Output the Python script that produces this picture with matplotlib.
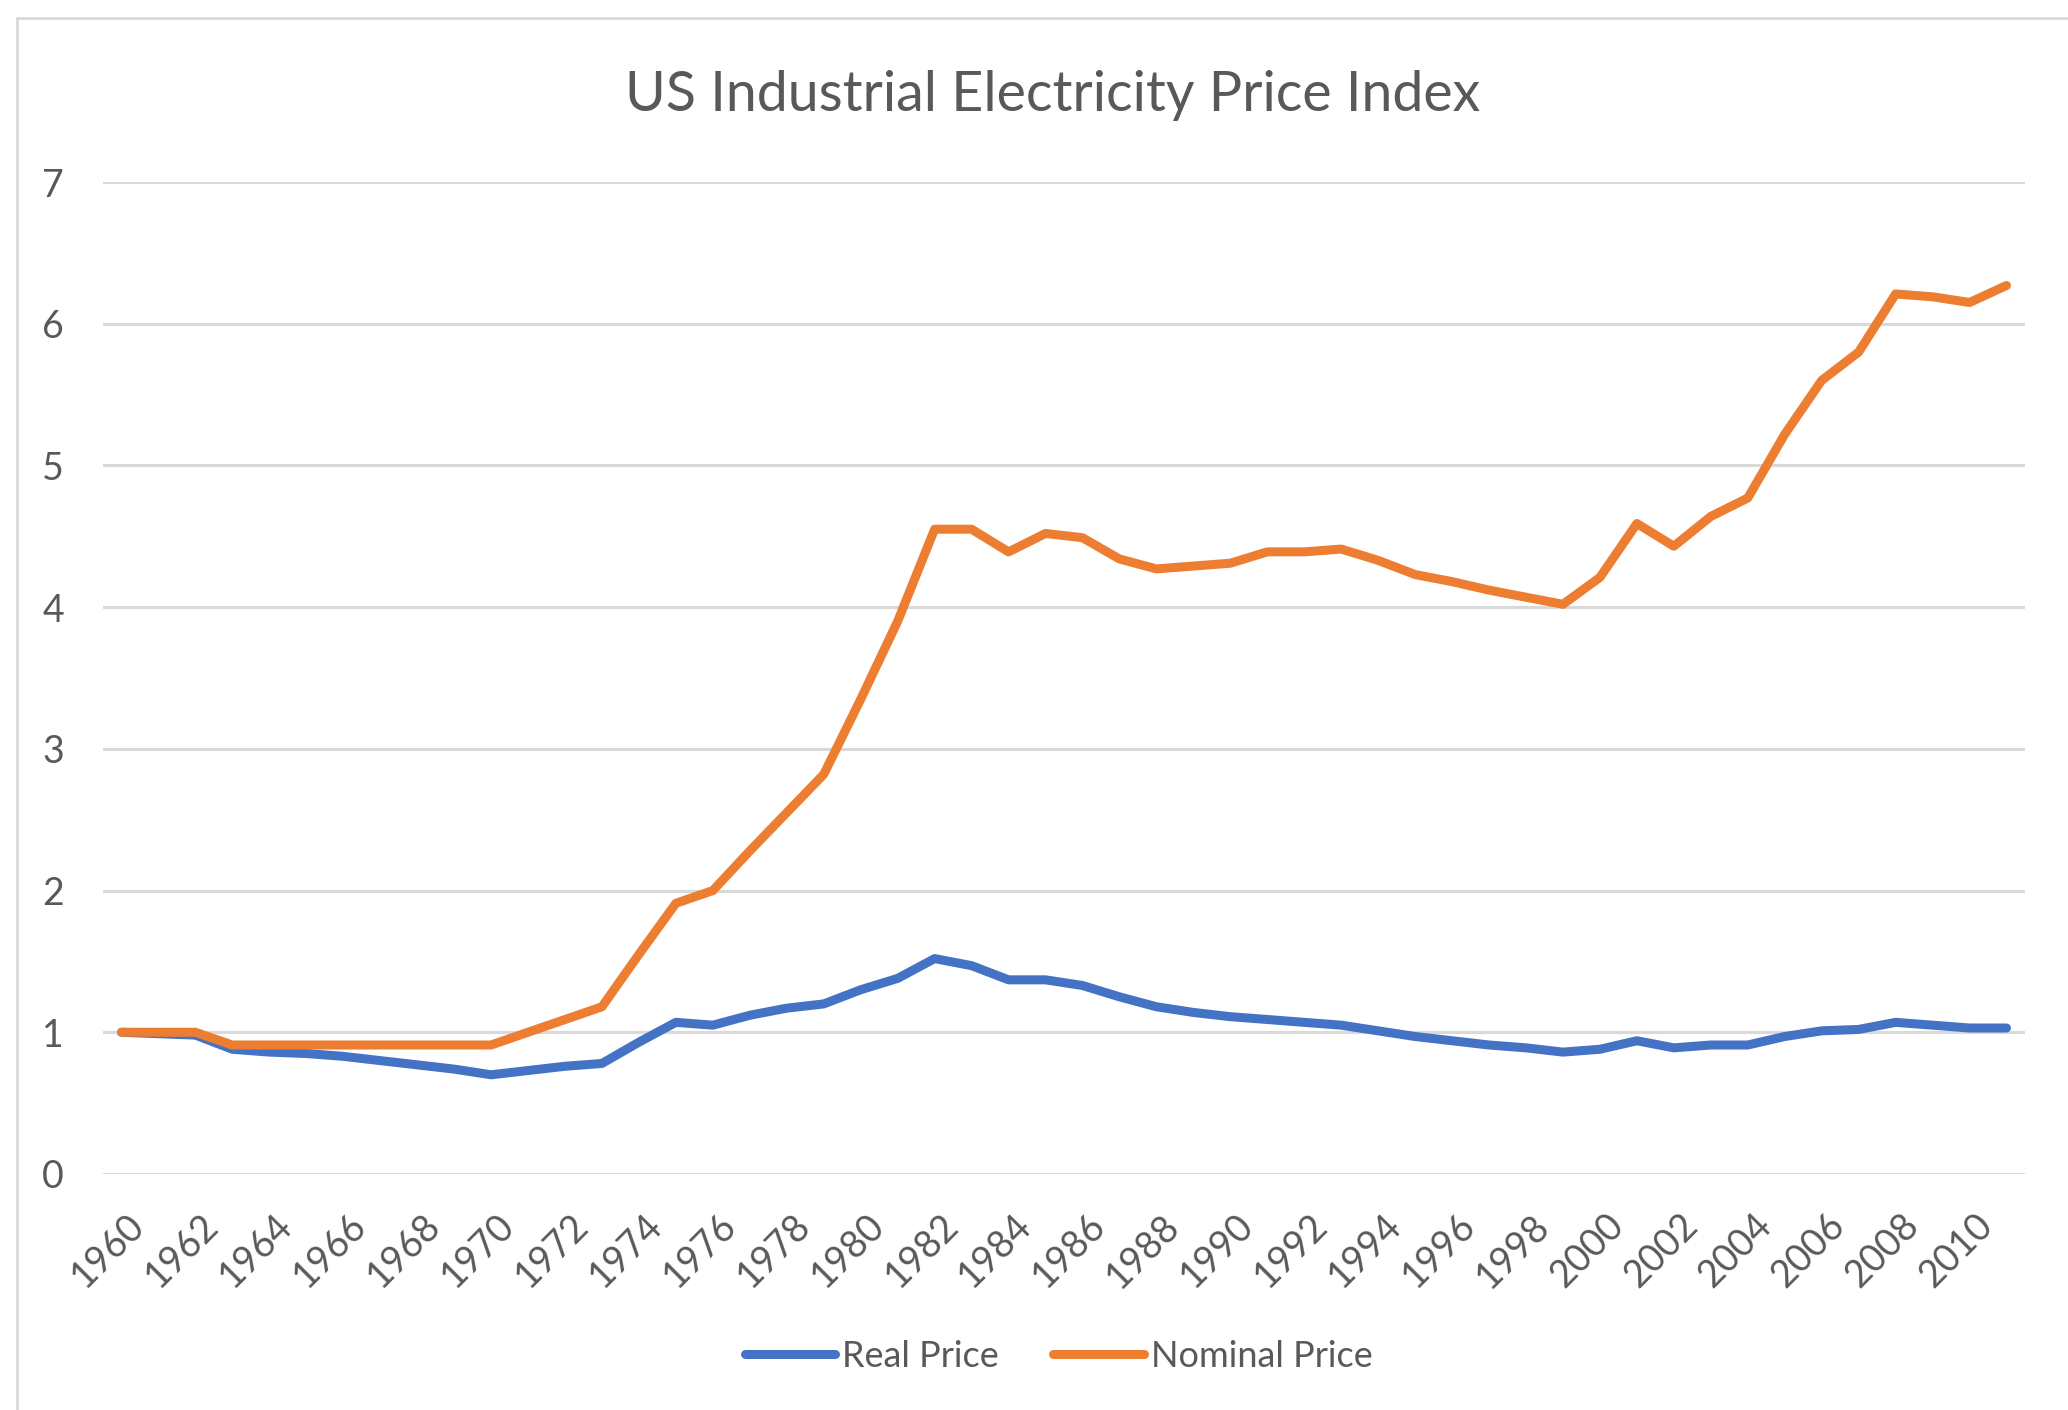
import matplotlib
matplotlib.use("Agg")
import matplotlib.pyplot as plt
from matplotlib.lines import Line2D
from matplotlib.transforms import ScaledTranslation

years = list(range(1960, 2012))
real_price = [1.00, 0.99, 0.98, 0.88, 0.86, 0.85, 0.83, 0.80, 0.77, 0.74,
              0.70, 0.73, 0.76, 0.78, 0.93, 1.07, 1.05, 1.12, 1.17, 1.20,
              1.30, 1.38, 1.52, 1.47, 1.37, 1.37, 1.33, 1.25, 1.18, 1.14,
              1.11, 1.09, 1.07, 1.05, 1.01, 0.97, 0.94, 0.91, 0.89, 0.86,
              0.88, 0.94, 0.89, 0.91, 0.91, 0.97, 1.01, 1.02, 1.07, 1.05,
              1.03, 1.03]
nominal_price = [1.00, 1.00, 1.00, 0.91, 0.91, 0.91, 0.91, 0.91, 0.91, 0.91,
                 0.91, 1.00, 1.09, 1.18, 1.55, 1.91, 2.00, 2.28, 2.55, 2.82,
                 3.35, 3.90, 4.55, 4.55, 4.39, 4.52, 4.49, 4.34, 4.27, 4.29,
                 4.31, 4.39, 4.39, 4.41, 4.33, 4.23, 4.18, 4.12, 4.07, 4.02,
                 4.21, 4.59, 4.43, 4.64, 4.77, 5.22, 5.60, 5.80, 6.21, 6.19,
                 6.15, 6.27]
tick_years = list(range(1960, 2011, 2))
y_ticks = list(range(0, 8))

plt.rcParams['font.family'] = ['Lato', 'DejaVu Sans']
txt = '#595959'
grid = '#D9D9D9'

fig = plt.figure(figsize=(20.68, 14.10), dpi=100)
ax = fig.add_axes([0.0498, 0.1674, 0.9294, 0.7035])

ax.plot(years, real_price, color='#4472C4', lw=6.5, solid_capstyle='round',
        solid_joinstyle='round', label='Real Price', zorder=3)
ax.plot(years, nominal_price, color='#ED7D31', lw=6.5, solid_capstyle='round',
        solid_joinstyle='round', label='Nominal Price', zorder=3)

ax.set_xlim(1959.5, 2011.5)
ax.set_ylim(0, 7)
ax.set_yticks(y_ticks)
ax.set_xticks(tick_years)
ax.set_xticklabels([str(y) for y in tick_years])
ax.grid(axis='y', color=grid, lw=2.2)
ax.set_axisbelow(True)
for s in ax.spines.values():
    s.set_visible(False)
ax.tick_params(axis='both', length=0, labelsize=27, labelcolor=txt)
ax.tick_params(axis='y', pad=28)
ax.tick_params(axis='x', pad=24)
off = ScaledTranslation(0.05, 0, fig.dpi_scale_trans)
for lbl in ax.get_xticklabels():
    lbl.set_rotation(45)
    lbl.set_ha('right')
    lbl.set_va('top')
    lbl.set_rotation_mode('anchor')
    lbl.set_transform(lbl.get_transform() + off)

fig.text(0.509, 0.932, 'US Industrial Electricity Price Index', ha='center',
         va='center', fontsize=40, color=txt)

fig.legend(loc='center', bbox_to_anchor=(0.512, 0.038), ncol=2, frameon=False,
           fontsize=26, labelcolor=txt, handlelength=2.5, handletextpad=0.2,
           columnspacing=1.5)

# chart area border (cropped on the right and bottom)
bx, by = 17 / 2068, 1 - 18 / 1410
fig.add_artist(Line2D([bx, bx], [0, by], color=grid, lw=2, transform=fig.transFigure))
fig.add_artist(Line2D([bx, 1], [by, by], color=grid, lw=2, transform=fig.transFigure))

fig.savefig('out.png', dpi=100, facecolor='white')
